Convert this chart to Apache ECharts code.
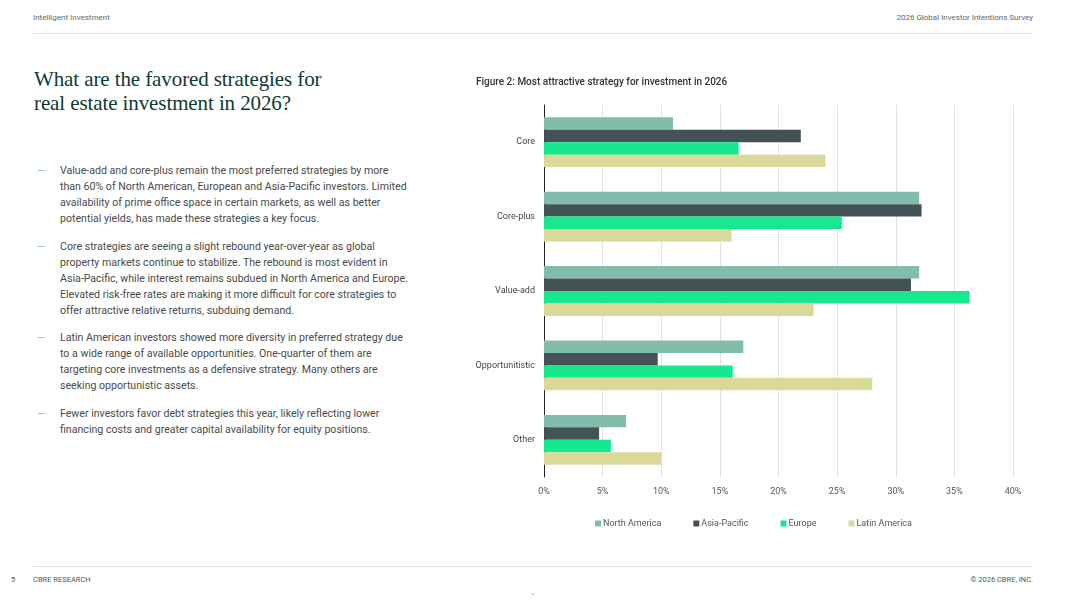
<!DOCTYPE html>
<html>
<head>
<meta charset="utf-8">
<script src="https://cdn.jsdelivr.net/npm/echarts@6/dist/echarts.min.js"></script>
<style>
  body { margin: 0; width: 1067px; height: 600px; background: #fff; position: relative; overflow: hidden; font-family: Roboto, "Noto Sans", sans-serif; }
  .hdr { position: absolute; top: 13px; font-size: 8px; color: #666; }
  .rule { position: absolute; left: 33px; width: 1000px; height: 1px; background: #e3e3e3; }
  h1 { position: absolute; left: 34px; top: 67px; margin: 0; font-family: "Liberation Serif", "DejaVu Serif", serif; font-weight: normal; font-size: 21px; line-height: 24px; color: #0f3b2f; letter-spacing: -0.1px; }
  .bullets { position: absolute; left: 37px; top: 163px; width: 400px; }
  .b { position: relative; padding-left: 23px; font-size: 10.6px; line-height: 16px; color: #4a4a4a; white-space: nowrap; margin-bottom: 11.5px; }
  .b::before { content: "—"; position: absolute; left: 0; top: 0; color: #8fc3b2; }
  .ft { position: absolute; top: 575px; font-size: 7.5px; color: #555; }
  .dot { position: absolute; left: 532px; top: 593px; width: 2px; height: 2px; border-radius: 1px; background: #bbb; }
  #chart { position: absolute; left: 460px; top: 60px; width: 600px; height: 500px; }
</style>
</head>
<body>
<div class="hdr" style="left:33px">Intelligent Investment</div>
<div class="hdr" style="right:34px">2026 Global Investor Intentions Survey</div>
<div class="rule" style="top:33px"></div>

<h1>What are the favored strategies for<br>real estate investment in 2026?</h1>

<div class="bullets">
  <div class="b">Value-add and core-plus remain the most preferred strategies by more<br>than 60% of North American, European and Asia-Pacific investors. Limited<br>availability of prime office space in certain markets, as well as better<br>potential yields, has made these strategies a key focus.</div>
  <div class="b">Core strategies are seeing a slight rebound year-over-year as global<br>property markets continue to stabilize. The rebound is most evident in<br>Asia-Pacific, while interest remains subdued in North America and Europe.<br>Elevated risk-free rates are making it more difficult for core strategies to<br>offer attractive relative returns, subduing demand.</div>
  <div class="b">Latin American investors showed more diversity in preferred strategy due<br>to a wide range of available opportunities. One-quarter of them are<br>targeting core investments as a defensive strategy. Many others are<br>seeking opportunistic assets.</div>
  <div class="b">Fewer investors favor debt strategies this year, likely reflecting lower<br>financing costs and greater capital availability for equity positions.</div>
</div>

<div id="chart"></div>

<div class="rule" style="top:566px"></div>
<div class="ft" style="left:11px">5</div>
<div class="ft" style="left:33px">CBRE RESEARCH</div>
<div class="ft" style="right:34px">© 2026 CBRE, INC.</div>
<div class="dot"></div>

<script>
var strategies = ['Core', 'Core-plus', 'Value-add', 'Opportunitistic', 'Other'];
var northAmerica = [11, 32, 32, 17, 7];
var asiaPacific = [21.9, 32.2, 31.3, 9.7, 4.7];
var europe = [16.6, 25.4, 36.3, 16.1, 5.7];
var latinAmerica = [24, 16, 23, 28, 10];
var regions = ['North America', 'Asia-Pacific', 'Europe', 'Latin America'];
var colors = ['#82bcab', '#435254', '#17e88f', '#dbd99a'];

var chart = echarts.init(document.getElementById('chart'));
var seriesData = [northAmerica, asiaPacific, europe, latinAmerica];

chart.setOption({
  animation: false,
  title: {
    text: 'Figure 2: Most attractive strategy for investment in 2026',
    left: 11,
    top: 12,
    textStyle: { fontSize: 10, fontWeight: 500, color: '#333', fontFamily: 'Roboto' }
  },
  legend: {
    data: regions,
    bottom: 27,
    left: 130,
    itemWidth: 6,
    itemHeight: 6,
    itemGap: 32,
    icon: 'rect',
    textStyle: { fontSize: 9, color: '#555', fontFamily: 'Roboto', padding: [0, 0, 0, -3] }
  },
  grid: { left: 84, right: 47, top: 45, bottom: 83 },
  xAxis: {
    type: 'value',
    min: 0,
    max: 40,
    interval: 5,
    axisLabel: { formatter: '{value}%', fontSize: 9, color: '#555', margin: 10, fontFamily: 'Roboto' },
    axisLine: { show: false },
    axisTick: { show: false },
    splitLine: { lineStyle: { color: '#e2e2e2' } }
  },
  yAxis: {
    type: 'category',
    data: strategies,
    inverse: true,
    axisLabel: { fontSize: 9, color: '#444', margin: 9, fontFamily: 'Roboto' },
    axisLine: { lineStyle: { color: '#222', width: 1 } },
    axisTick: { show: false }
  },
  series: regions.map(function (name, i) {
    return {
      name: name,
      type: 'bar',
      data: seriesData[i],
      barGap: '0%',
      barCategoryGap: '33%',
      itemStyle: { color: colors[i] }
    };
  })
});
</script>
</body>
</html>
